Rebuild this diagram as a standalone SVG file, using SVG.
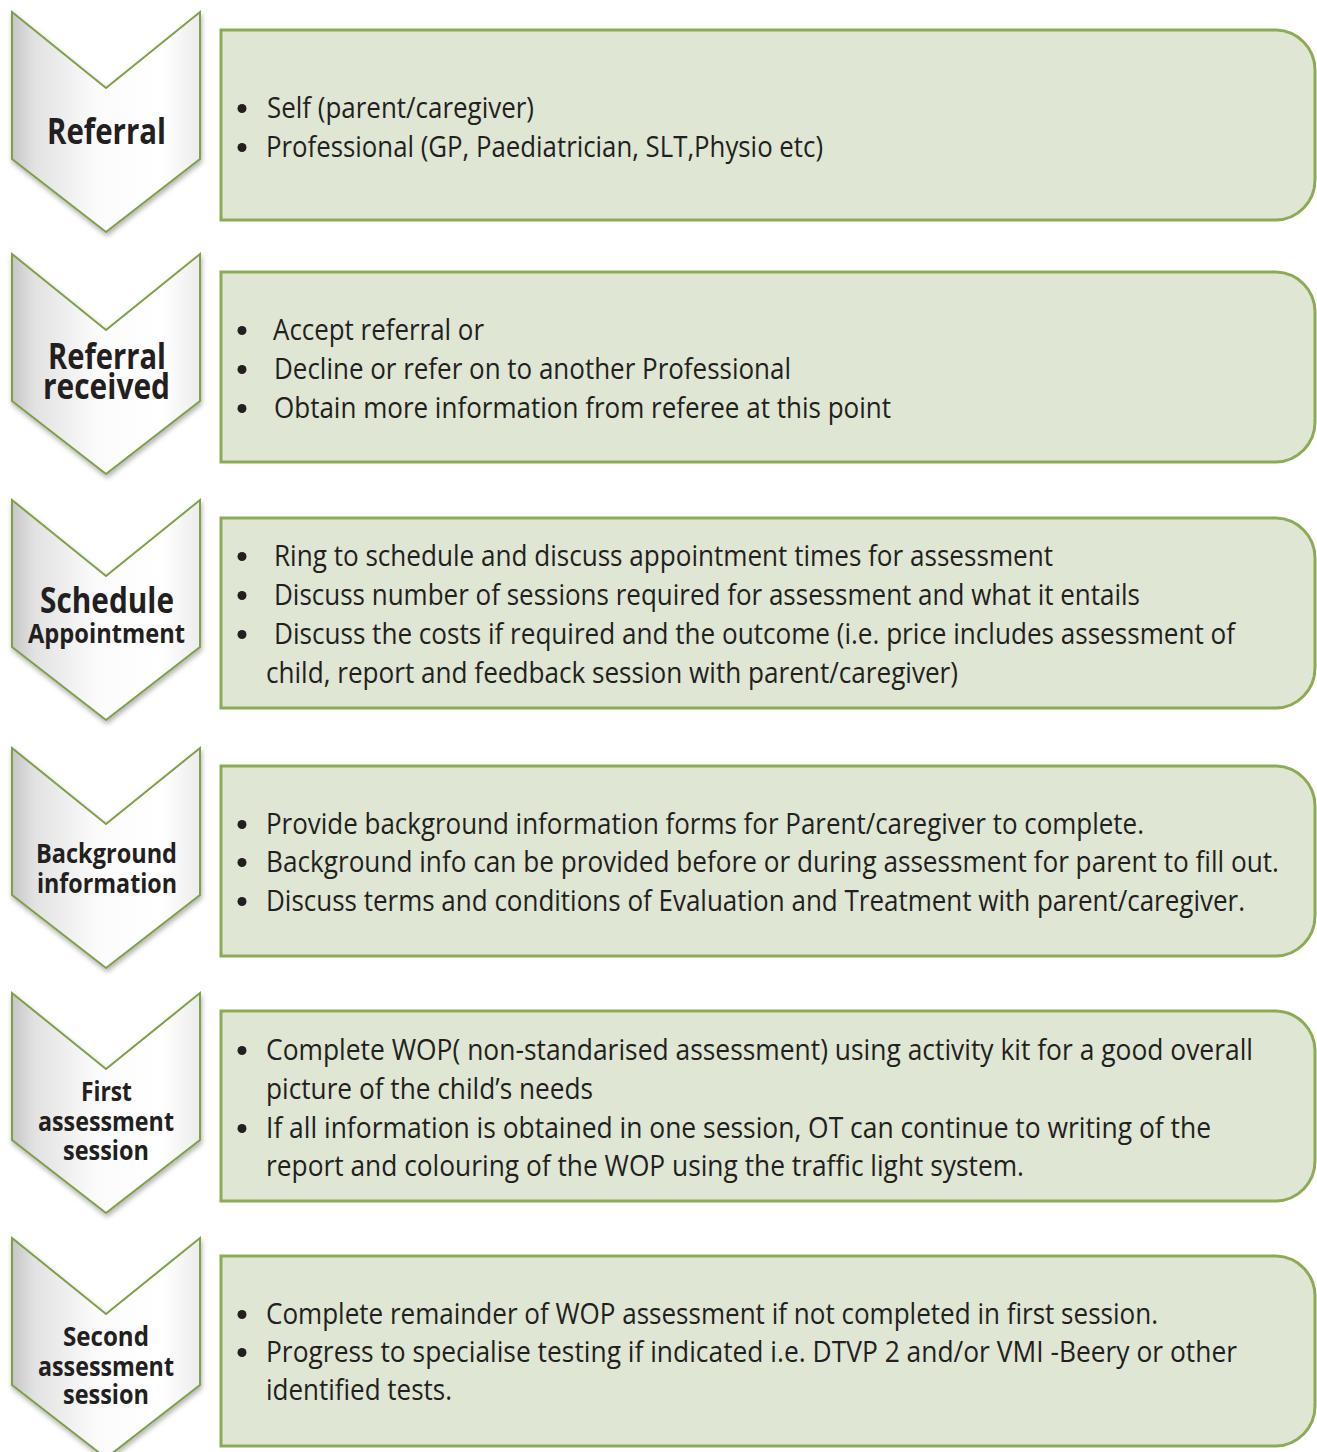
<svg xmlns="http://www.w3.org/2000/svg" width="1317" height="1452" viewBox="0 0 1317 1452">
<style>
.chev{fill:url(#cg);stroke:#7f9f48;stroke-width:2;filter:url(#sh)}
.box{fill:#dfe6d3;stroke:#8cab55;stroke-width:3}
.lab{font-family:"Open Sans","DejaVu Sans",sans-serif;font-weight:bold;fill:#231f20;text-anchor:start}
.t{font-family:"Open Sans","DejaVu Sans",sans-serif;font-size:30px;fill:#231f20}
.b{fill:#231f20}
</style>
<defs>
<linearGradient id="cg" x1="0" y1="0" x2="1" y2="0">
<stop offset="0" stop-color="#c6c6c6"/>
<stop offset="0.12" stop-color="#e2e2e2"/>
<stop offset="0.45" stop-color="#fbfbfb"/>
<stop offset="0.8" stop-color="#ffffff"/>
<stop offset="1" stop-color="#ececec"/>
</linearGradient>
<filter id="sh" x="-10%" y="-10%" width="130%" height="130%">
<feDropShadow dx="1" dy="3" stdDeviation="2.5" flood-color="#000" flood-opacity="0.3"/>
</filter>
</defs>

<g id="connectors"></g>

<g id="node-referral">
<path class="chev" d="M12,12 L106,88 L200,12 L200,159 L106,232 L12,159 Z"/>
<text class="lab" x="47" y="144" font-size="35" textLength="119" lengthAdjust="spacingAndGlyphs">Referral</text>
<path class="box" d="M221,30 H1276 A40,40 0 0 1 1315,70 V180 A40,40 0 0 1 1276,220 H221 Z"/>
<circle class="b" cx="242" cy="108.5" r="4.5"/>
<circle class="b" cx="242" cy="147.5" r="4.5"/>
<text class="t" x="267" y="118" textLength="267" lengthAdjust="spacingAndGlyphs">Self (parent/caregiver)</text>
<text class="t" x="266" y="157" textLength="557" lengthAdjust="spacingAndGlyphs">Professional (GP, Paediatrician, SLT,Physio etc)</text>
</g>

<g id="node-referral-received">
<path class="chev" d="M12,254 L106,330 L200,254 L200,401 L106,474 L12,401 Z"/>
<text class="lab" x="48" y="369" font-size="35" textLength="118" lengthAdjust="spacingAndGlyphs">Referral</text>
<text class="lab" x="43" y="399" font-size="35" textLength="127" lengthAdjust="spacingAndGlyphs">received</text>
<path class="box" d="M221,272 H1276 A40,40 0 0 1 1315,312 V422 A40,40 0 0 1 1276,462 H221 Z"/>
<circle class="b" cx="242" cy="330.5" r="4.5"/>
<circle class="b" cx="242" cy="369.5" r="4.5"/>
<circle class="b" cx="242" cy="408.5" r="4.5"/>
<text class="t" x="273" y="340" textLength="211" lengthAdjust="spacingAndGlyphs">Accept referral or</text>
<text class="t" x="274" y="379" textLength="517" lengthAdjust="spacingAndGlyphs">Decline or refer on to another Professional</text>
<text class="t" x="274" y="418" textLength="617" lengthAdjust="spacingAndGlyphs">Obtain more information from referee at this point</text>
</g>

<g id="node-schedule">
<path class="chev" d="M12,500 L106,576 L200,500 L200,647 L106,720 L12,647 Z"/>
<text class="lab" x="40" y="613" font-size="35" textLength="134" lengthAdjust="spacingAndGlyphs">Schedule</text>
<text class="lab" x="28" y="643" font-size="26" textLength="157" lengthAdjust="spacingAndGlyphs">Appointment</text>
<path class="box" d="M221,518 H1276 A40,40 0 0 1 1315,558 V668 A40,40 0 0 1 1276,708 H221 Z"/>
<circle class="b" cx="242" cy="556.5" r="4.5"/>
<circle class="b" cx="242" cy="595.5" r="4.5"/>
<circle class="b" cx="242" cy="634.5" r="4.5"/>
<text class="t" x="274" y="566" textLength="779" lengthAdjust="spacingAndGlyphs">Ring to schedule and discuss appointment times for assessment</text>
<text class="t" x="274" y="605" textLength="866" lengthAdjust="spacingAndGlyphs">Discuss number of sessions required for assessment and what it entails</text>
<text class="t" x="274" y="644" textLength="961" lengthAdjust="spacingAndGlyphs">Discuss the costs if required and the outcome (i.e. price includes assessment of</text>
<text class="t" x="266" y="683" textLength="692" lengthAdjust="spacingAndGlyphs">child, report and feedback session with parent/caregiver)</text>
</g>

<g id="node-background">
<path class="chev" d="M12,748 L106,824 L200,748 L200,895 L106,968 L12,895 Z"/>
<text class="lab" x="36" y="863" font-size="26" textLength="141" lengthAdjust="spacingAndGlyphs">Background</text>
<text class="lab" x="37" y="893" font-size="26" textLength="140" lengthAdjust="spacingAndGlyphs">information</text>
<path class="box" d="M221,766 H1276 A40,40 0 0 1 1315,806 V916 A40,40 0 0 1 1276,956 H221 Z"/>
<circle class="b" cx="242" cy="824.5" r="4.5"/>
<circle class="b" cx="242" cy="862.5" r="4.5"/>
<circle class="b" cx="242" cy="901.5" r="4.5"/>
<text class="t" x="266" y="834" textLength="878" lengthAdjust="spacingAndGlyphs">Provide background information forms for Parent/caregiver to complete.</text>
<text class="t" x="266" y="872" textLength="1013" lengthAdjust="spacingAndGlyphs">Background info can be provided before or during assessment for parent to fill out.</text>
<text class="t" x="266" y="911" textLength="979" lengthAdjust="spacingAndGlyphs">Discuss terms and conditions of Evaluation and Treatment with parent/caregiver.</text>
</g>

<g id="node-first-assessment">
<path class="chev" d="M12,993 L106,1069 L200,993 L200,1140 L106,1213 L12,1140 Z"/>
<text class="lab" x="81" y="1101" font-size="26" textLength="51" lengthAdjust="spacingAndGlyphs">First</text>
<text class="lab" x="38" y="1131" font-size="26" textLength="136" lengthAdjust="spacingAndGlyphs">assessment</text>
<text class="lab" x="63" y="1160" font-size="26" textLength="86" lengthAdjust="spacingAndGlyphs">session</text>
<path class="box" d="M221,1011 H1276 A40,40 0 0 1 1315,1051 V1161 A40,40 0 0 1 1276,1201 H221 Z"/>
<circle class="b" cx="242" cy="1050.5" r="4.5"/>
<circle class="b" cx="242" cy="1128.5" r="4.5"/>
<text class="t" x="266" y="1060" textLength="987" lengthAdjust="spacingAndGlyphs">Complete WOP( non-standarised assessment) using activity kit for a good overall</text>
<text class="t" x="266" y="1099" textLength="327" lengthAdjust="spacingAndGlyphs">picture of the child’s needs</text>
<text class="t" x="266" y="1138" textLength="945" lengthAdjust="spacingAndGlyphs">If all information is obtained in one session, OT can continue to writing of the</text>
<text class="t" x="266" y="1176" textLength="758" lengthAdjust="spacingAndGlyphs">report and colouring of the WOP using the traffic light system.</text>
</g>

<g id="node-second-assessment">
<path class="chev" d="M12,1238 L106,1314 L200,1238 L200,1385 L106,1458 L12,1385 Z"/>
<text class="lab" x="63" y="1346" font-size="26" textLength="86" lengthAdjust="spacingAndGlyphs">Second</text>
<text class="lab" x="38" y="1376" font-size="26" textLength="136" lengthAdjust="spacingAndGlyphs">assessment</text>
<text class="lab" x="63" y="1404" font-size="26" textLength="86" lengthAdjust="spacingAndGlyphs">session</text>
<path class="box" d="M221,1256 H1276 A40,40 0 0 1 1315,1296 V1406 A40,40 0 0 1 1276,1446 H221 Z"/>
<circle class="b" cx="242" cy="1314.5" r="4.5"/>
<circle class="b" cx="242" cy="1352.5" r="4.5"/>
<text class="t" x="266" y="1324" textLength="892" lengthAdjust="spacingAndGlyphs">Complete remainder of WOP assessment if not completed in first session.</text>
<text class="t" x="266" y="1362" textLength="971" lengthAdjust="spacingAndGlyphs">Progress to specialise testing if indicated i.e. DTVP 2 and/or VMI -Beery or other</text>
<text class="t" x="266" y="1400" textLength="186" lengthAdjust="spacingAndGlyphs">identified tests.</text>
</g>
</svg>
